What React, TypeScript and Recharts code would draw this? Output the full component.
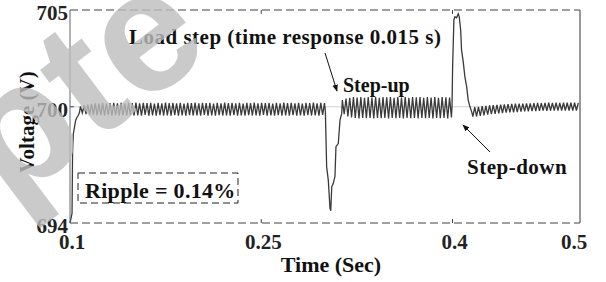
import React from "react";
import { LineChart, Line, XAxis, YAxis, ReferenceLine } from "recharts";

// sampling step of the ripple segments (half a ripple period, in seconds)
const HALF_STEP = 0.00145;

// start-up transient
const startupT = [0.1, 0.1016, 0.102, 0.1026, 0.1034, 0.1044, 0.1054, 0.1064, 0.1074];
const startupV = [694.0, 694.5, 697.6, 698.6, 698.9, 699.3, 699.45, 699.55, 699.7];

// steady ripple before the step-up
const rippleAStart = 0.1082;
const rippleA = [
  700.02, 699.68, 700.08, 699.62, 700.12, 699.6, 700.15, 699.58, 700.18, 699.56,
  700.16, 699.57, 700.2, 699.55, 700.17, 699.58, 700.19, 699.54, 700.2, 699.57,
  700.18, 699.55, 700.21, 699.56, 700.17, 699.54, 700.2, 699.57, 700.19, 699.55,
  700.22, 699.56, 700.18, 699.54, 700.2, 699.58, 700.19, 699.55, 700.21, 699.56,
  700.17, 699.54, 700.2, 699.57, 700.18, 699.55, 700.22, 699.56, 700.19, 699.54,
  700.2, 699.57, 700.18, 699.55, 700.21, 699.56, 700.17, 699.54, 700.2, 699.57,
  700.19, 699.55, 700.22, 699.56, 700.18, 699.54, 700.2, 699.58, 700.19, 699.55,
  700.21, 699.56, 700.17, 699.54, 700.2, 699.57, 700.18, 699.55, 700.22, 699.56,
  700.19, 699.54, 700.2, 699.57, 700.18, 699.55, 700.21, 699.56, 700.17, 699.54,
  700.2, 699.57, 700.19, 699.55, 700.22, 699.56, 700.18, 699.54, 700.2, 699.58,
  700.19, 699.55, 700.21, 699.56, 700.17, 699.54, 700.2, 699.57, 700.18, 699.55,
  700.22, 699.56, 700.19, 699.54, 700.2, 699.57, 700.18, 699.55, 700.21, 699.56,
  700.17, 699.54, 700.2, 699.57, 700.19, 699.55, 700.22, 699.56, 700.18, 699.54,
  700.2, 699.58, 700.19,
];

// voltage dip at the step-up
const dipT = [0.3003, 0.3008, 0.3013, 0.3026, 0.3039, 0.3045, 0.3053, 0.3065, 0.3078, 0.3086, 0.3104, 0.3118, 0.3131];
const dipV = [699.75, 698.3, 696.9, 696.2, 694.77, 694.63, 695.87, 696.05, 696.4, 697.94, 698.1, 699.32, 699.66];

// heavier ripple after the step-up
const rippleBStart = 0.3136;
const rippleB = [
  700.35, 699.62, 700.42, 699.5, 700.47, 699.45, 700.5, 699.42, 700.48, 699.4,
  700.5, 699.43, 700.47, 699.41, 700.5, 699.42, 700.48, 699.4, 700.51, 699.43,
  700.47, 699.41, 700.5, 699.42, 700.49, 699.4, 700.5, 699.43, 700.47, 699.41,
  700.5, 699.42, 700.48, 699.4, 700.51, 699.43, 700.47, 699.41, 700.5, 699.42,
  700.49, 699.4, 700.5, 699.43, 700.47, 699.41, 700.5, 699.42, 700.48, 699.4,
  700.51, 699.43, 700.47, 699.41, 700.5, 699.42, 700.49, 699.4, 700.48, 699.45,
];

// overshoot at the step-down
const spikeT = [0.3996, 0.4001, 0.4011, 0.4019, 0.4032, 0.4045, 0.4053, 0.4064, 0.4071, 0.4084, 0.4097, 0.4111, 0.4123, 0.4137, 0.415];
const spikeV = [700.0, 702.1, 704.5, 704.65, 704.6, 704.8, 704.65, 703.97, 702.93, 702.33, 701.56, 701.04, 700.35, 700.0, 699.75];

// ripple after the step-down
const rippleCStart = 0.416;
const rippleC = [
  699.5, 699.98, 699.5, 700.0, 699.53, 700.03, 699.56, 700.05, 699.6, 700.07,
  699.62, 700.09, 699.64, 700.1, 699.66, 700.11, 699.68, 700.13, 699.7, 700.14,
  699.71, 700.15, 699.72, 700.16, 699.73, 700.17, 699.75, 700.17, 699.76, 700.18,
  699.77, 700.18, 699.78, 700.19, 699.78, 700.2, 699.79, 700.19, 699.8, 700.2,
  699.79, 700.21, 699.8, 700.2, 699.81, 700.21, 699.8, 700.2, 699.81, 700.21,
  699.8, 700.22, 699.81, 700.21, 699.8, 700.22, 699.81, 700.2,
];

const xTicks = [0.1, 0.25, 0.4, 0.5];
const yTicks = [694, 700, 705];

const pairs = (ts: number[], vs: number[]) => ts.map((t, i) => ({ t, v: vs[i] }));
const sampled = (start: number, vs: number[]) => vs.map((v, i) => ({ t: start + i * HALF_STEP, v }));

const data = [
  ...pairs(startupT, startupV),
  ...sampled(rippleAStart, rippleA),
  ...pairs(dipT, dipV),
  ...sampled(rippleBStart, rippleB),
  ...pairs(spikeT, spikeV),
  ...sampled(rippleCStart, rippleC),
];

const SERIF = "'Liberation Serif', 'Times New Roman', serif";
const BORDER = "#404040";

function XTick(props: any) {
  const { x, y, payload } = props;
  const dx = payload.value === 0.5 ? -6 : 2;
  return (
    <text x={x + dx} y={y + 18} textAnchor="middle" fontFamily={SERIF} fontWeight="bold" fontSize={21} fill="#222">
      {payload.value}
    </text>
  );
}

function YTick(props: any) {
  const { x, y, payload } = props;
  return (
    <text x={x} y={y + 3} dy="0.355em" textAnchor="end" fontFamily={SERIF} fontWeight="bold" fontSize={21} fill="#222">
      {payload.value}
    </text>
  );
}

const txt = { fontFamily: SERIF, fontWeight: "bold" as const, fontSize: 20, fill: "#111" };

export default function App() {
  return (
    <div style={{ position: "absolute", left: 0, top: 0, width: 606, height: 282, background: "#fff", overflow: "hidden" }}>
      <LineChart width={606} height={282} data={data} margin={{ top: 10, right: 26, bottom: 29, left: 30 }}>
        <XAxis
          dataKey="t"
          type="number"
          domain={[0.1, 0.5]}
          ticks={xTicks}
          axisLine={false}
          tickLine={false}
          height={30}
          tick={<XTick />}
        />
        <YAxis
          type="number"
          domain={[694, 705]}
          ticks={yTicks}
          width={40}
          tickLine={false}
          tickSize={0}
          tickMargin={2}
          axisLine={{ stroke: "#666", strokeWidth: 1 }}
          tick={<YTick />}
        />
        <ReferenceLine y={700} stroke="#cfcfcf" strokeWidth={1} />
        <ReferenceLine y={705} stroke={BORDER} strokeDasharray="8 4" />
        <ReferenceLine y={694} stroke={BORDER} strokeDasharray="8 4" />
        <ReferenceLine x={0.5} stroke="#777" strokeWidth={1.5} />
        <ReferenceLine segment={[{ x: 0.25, y: 705 }, { x: 0.25, y: 704.8 }]} stroke={BORDER} />
        <ReferenceLine segment={[{ x: 0.4, y: 705 }, { x: 0.4, y: 704.8 }]} stroke={BORDER} />
        <ReferenceLine segment={[{ x: 0.25, y: 694 }, { x: 0.25, y: 694.2 }]} stroke={BORDER} />
        <ReferenceLine segment={[{ x: 0.4, y: 694 }, { x: 0.4, y: 694.2 }]} stroke={BORDER} />
        <ReferenceLine segment={[{ x: 0.1, y: 700 }, { x: 0.103, y: 700 }]} stroke={BORDER} />
        <Line
          type="linear"
          dataKey="v"
          stroke="#3a3a3a"
          strokeWidth={1.3}
          dot={false}
          isAnimationActive={false}
        />
      </LineChart>

      <svg width={606} height={282} style={{ position: "absolute", left: 0, top: 0, pointerEvents: "none" }}>
        <defs>
          <marker id="head" viewBox="0 0 10 10" refX="9" refY="5" markerWidth="7" markerHeight="7" orient="auto">
            <path d="M0,1 L10,5 L0,9 z" fill="#111" />
          </marker>
        </defs>
        <text x={129} y={44} {...txt} fontSize={21} letterSpacing={0.5}>Load step (time response 0.015 s)</text>
        <text x={343} y={92} {...txt}>Step-up</text>
        <text x={467} y={174} {...txt} fontSize={21} letterSpacing={0.5}>Step-down</text>
        <line x1={325} y1={53} x2={337} y2={91} stroke="#111" strokeWidth={1} markerEnd="url(#head)" />
        <line x1={490} y1={152} x2={463} y2={125} stroke="#111" strokeWidth={1} markerEnd="url(#head)" />
        <rect x={78} y={173} width={160} height={30} fill="none" stroke="#222" strokeDasharray="7 4" />
        <text x={85} y={198} {...txt} fontSize={22} letterSpacing={0.3}>Ripple = 0.14%</text>
        <text x={331} y={272} textAnchor="middle" {...txt} fontSize={22}>Time (Sec)</text>
        <text x={34} y={122} textAnchor="middle" transform="rotate(-90 34 122)" {...txt} fontSize={21}>Voltage (V)</text>
      </svg>

      {/* watermark laid over the figure */}
      <svg width={606} height={282} style={{ position: "absolute", left: 0, top: 0, pointerEvents: "none" }}>
        <g transform="translate(9 207) rotate(-37)">
          <text
            x={0}
            y={0}
            fontFamily="'Liberation Sans', Arial, sans-serif"
            fontWeight="bold"
            fontSize={172}
            fill="rgb(190,190,190)"
            opacity={0.8}
          >
            pte
          </text>
        </g>
      </svg>
    </div>
  );
}
